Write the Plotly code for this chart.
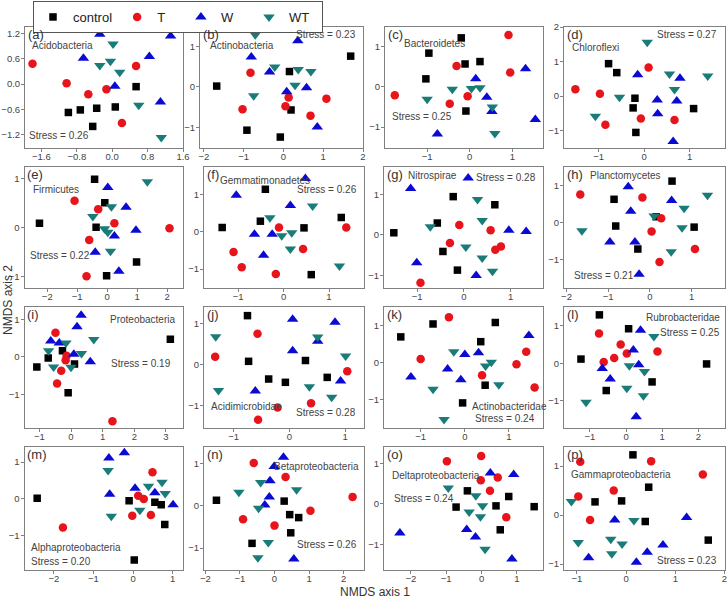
import plotly.graph_objects as go

# ---------------- data (x, y) per panel and group ----------------
a_control = [(-0.99,-0.67),(-0.72,-0.61),(-0.35,-0.57),(0.07,-0.54),(-0.44,-1.00),(0.54,-0.06)]
a_T = [(-1.80,0.48),(-1.03,0.02),(-0.54,-0.24),(-0.13,-0.12),(0.54,0.43),(0.22,-0.92)]
a_W = [(-0.28,1.18),(1.32,1.14),(-0.65,0.61),(0.84,0.65),(0.06,-0.05),(1.09,-0.42)]
a_WT = [(0.02,0.95),(-0.28,0.44),(-0.04,0.54),(0.17,0.28),(0.60,-0.50),(1.11,-1.26)]

b_control = [(-1.68,0.02),(0.15,0.38),(1.69,0.76),(0.19,-0.57),(-0.92,-1.07),(-0.08,-1.24)]
b_T = [(-0.83,0.35),(-1.03,-0.55),(0.13,-0.26),(0.05,-0.48),(0.68,-0.71),(1.08,-0.29)]
b_W = [(-0.81,0.74),(-0.35,0.37),(0.36,1.14),(0.08,-0.12),(0.58,-0.02),(0.85,-0.99)]
b_WT = [(-0.71,1.29),(-0.22,0.49),(0.37,0.43),(0.69,0.38),(0.29,0.04),(-0.75,-0.22)]

c_control = [(-0.20,1.22),(-0.96,0.84),(-1.03,0.20),(-0.11,0.57),(0.24,0.63),(-0.09,-0.60)]
c_T = [(-1.76,-0.21),(-0.31,0.52),(0.91,1.29),(0.95,0.36),(-0.05,-0.23),(-0.47,-0.42)]
c_W = [(0.14,0.20),(0.40,-0.26),(0.52,-0.61),(1.31,0.45),(1.54,-0.81),(-0.76,-1.17)]
c_WT = [(-1.00,-0.31),(-0.41,-0.06),(0.04,-0.04),(0.24,-0.02),(0.53,-0.50),(0.59,-1.16)]

d_control = [(-0.78,0.94),(-0.60,0.68),(-0.20,-0.06),(-0.24,-0.34),(1.09,-0.36),(-0.18,-1.05)]
d_T = [(-1.51,0.20),(-0.97,0.07),(-0.85,-0.83),(0.10,0.83),(-0.07,-0.65),(0.67,-0.69)]
d_W = [(-0.14,0.62),(0.79,0.52),(0.29,-0.11),(0.30,-0.51),(0.72,-0.14),(0.64,-1.31)]
d_WT = [(0.07,1.56),(0.56,0.64),(1.40,0.58),(0.67,0.19),(-0.54,-0.03),(-1.07,-0.58)]

e_control = [(-0.42,0.98),(-2.26,0.08),(-0.08,0.50),(-0.37,0.00),(0.98,-0.71),(-0.02,-0.99)]
e_T = [(-1.09,0.54),(-0.30,0.37),(0.24,0.08),(-0.60,-0.26),(-0.69,-1.00),(2.08,-0.02)]
e_W = [(0.02,0.81),(0.63,0.41),(0.96,-0.06),(0.24,-0.18),(-0.40,-0.51),(0.39,-0.90)]
e_WT = [(1.34,0.93),(0.14,0.42),(-0.48,0.22),(-0.09,-0.03),(0.02,-0.10),(0.11,-0.49)]

f_control = [(-0.40,1.15),(-1.35,0.12),(-0.51,0.29),(0.45,0.11),(1.27,0.39),(0.61,-1.15)]
f_T = [(-0.10,0.12),(1.38,0.12),(-1.10,-0.54),(-0.92,-0.95),(-0.17,-1.13),(0.43,-0.46)]
f_W = [(0.48,1.44),(-1.04,0.99),(0.15,0.71),(-0.64,-0.06),(-0.25,-0.06),(-0.44,-0.63)]
f_WT = [(-0.30,0.38),(0.64,0.70),(-0.04,-0.10),(0.18,-0.02),(0.15,-0.46),(1.23,-0.92)]

g_control = [(-1.50,0.05),(-0.23,0.94),(0.66,0.74),(-0.57,0.29),(-0.45,-0.41),(-0.14,-0.87)]
g_T = [(-0.10,0.24),(0.57,0.11),(-0.30,-0.20),(0.67,-0.37),(0.79,-0.29),(-0.93,-1.18)]
g_W = [(0.09,1.40),(-1.14,1.14),(0.96,0.11),(1.33,0.08),(-1.01,-0.69),(0.26,-1.00)]
g_WT = [(0.29,0.87),(0.39,0.35),(-0.72,0.20),(0.04,-0.30),(0.39,-0.57),(0.61,-0.90)]

h_control = [(0.53,1.11),(-0.86,0.62),(-0.82,-0.10),(0.15,0.15),(1.06,-0.13),(-0.29,-0.72)]
h_T = [(-1.67,0.75),(-0.18,0.67),(0.27,0.11),(0.04,-0.25),(0.23,-1.07),(1.08,-0.72)]
h_W = [(-0.52,0.96),(0.52,0.59),(-0.46,0.30),(-0.96,-0.53),(-0.36,-0.53),(-0.26,-1.40)]
h_WT = [(-1.63,-0.23),(0.10,0.17),(0.82,0.38),(1.38,0.73),(0.77,-0.15),(0.51,-0.79)]

i_control = [(-1.08,-0.27),(-0.72,-0.03),(-0.27,0.16),(0.11,-0.19),(-0.09,-0.96),(3.14,0.47)]
i_T = [(-0.49,0.64),(-0.14,0.03),(-0.17,-0.09),(-0.31,-0.37),(-0.44,-0.71),(1.31,-1.72)]
i_W = [(0.32,1.11),(0.19,0.80),(-0.64,0.42),(-0.37,0.37),(0.09,0.07),(0.61,-0.13)]
i_WT = [(0.72,0.46),(-0.16,0.37),(-0.71,0.16),(0.33,0.09),(-0.55,-0.27),(0.00,-0.28)]

j_control = [(-0.75,1.19),(-0.73,0.08),(-0.37,-0.35),(-0.07,-0.43),(0.29,0.10),(0.68,-0.31)]
j_T = [(-1.33,0.19),(-0.57,0.75),(1.04,-0.16),(-0.21,-1.04),(0.39,-0.94),(-0.56,-1.34)]
j_W = [(0.06,1.10),(0.82,1.03),(0.06,0.34),(0.51,0.57),(-0.61,-0.64),(0.92,-0.40)]
j_WT = [(-1.32,0.68),(0.51,0.67),(1.01,0.21),(-1.27,-0.63),(0.36,-0.54),(0.76,-0.79)]

k_control = [(-1.45,0.70),(-0.72,1.05),(0.69,1.09),(0.36,0.57),(0.46,-0.61),(-0.05,-1.09)]
k_T = [(-0.36,1.23),(-1.00,0.10),(0.39,-0.34),(1.17,-0.04),(1.39,0.30),(1.58,-0.67)]
k_W = [(-1.22,-0.39),(-0.39,-0.17),(0.00,0.22),(0.31,0.27),(-0.09,-0.46),(1.45,0.74)]
k_WT = [(-0.25,0.30),(0.47,-0.09),(0.60,0.01),(-0.72,-0.72),(0.77,-0.60),(-0.47,-1.54)]

l_control = [(-0.74,1.29),(0.07,0.92),(-1.25,0.11),(-0.55,-0.73),(0.72,-0.50),(2.23,-0.02)]
l_T = [(-0.75,0.79),(-0.15,0.50),(0.02,0.26),(-0.33,0.14),(-0.62,0.03),(0.87,0.31)]
l_W = [(0.40,0.88),(0.20,0.35),(-0.66,-0.14),(-0.44,-0.42),(0.35,-0.04),(0.28,-1.43)]
l_WT = [(0.77,0.71),(0.09,-0.07),(0.51,-0.22),(0.02,-0.67),(0.48,-0.87),(-1.11,-1.04)]

m_control = [(-2.42,0.01),(-0.10,-0.06),(0.55,-0.10),(0.71,-0.17),(0.80,-0.71),(0.03,-1.68)]
m_T = [(-1.77,-0.79),(0.49,0.72),(0.13,0.08),(0.27,-0.01),(-0.02,-0.47),(0.45,-0.45)]
m_W = [(-0.61,1.11),(-0.22,1.25),(-0.59,0.12),(0.05,0.28),(0.55,0.16),(1.01,-0.17)]
m_WT = [(-0.63,0.77),(-0.55,-0.48),(0.39,0.34),(0.73,0.45),(0.81,0.14),(0.17,-0.32)]

n_control = [(-1.68,0.13),(0.28,0.11),(0.44,-0.21),(0.70,-0.28),(0.47,-0.64),(-0.65,-0.89)]
n_T = [(-0.60,1.01),(0.32,0.68),(2.26,0.21),(1.04,-0.12),(-0.91,-0.32),(0.00,-0.47)]
n_W = [(0.26,1.15),(-0.01,0.93),(-0.13,0.59),(-0.15,0.21),(-0.28,0.02),(0.56,-1.26)]
n_WT = [(-1.03,0.32),(-0.40,0.55),(0.64,0.38),(-0.46,-0.06),(-0.18,-0.87),(-0.48,-1.23)]

o_control = [(-0.40,0.32),(-0.72,-0.08),(0.41,-0.05),(0.77,0.18),(1.49,-0.07),(0.53,-0.64)]
o_T = [(-0.98,1.05),(-0.01,1.18),(-0.02,0.58),(0.46,0.65),(0.24,0.32),(0.70,-0.33)]
o_W = [(0.25,0.76),(0.91,0.72),(-2.31,-0.72),(-0.42,-0.63),(-0.17,-0.82),(0.86,-1.36)]
o_WT = [(-0.94,0.39),(-0.16,0.20),(0.03,-0.05),(-0.35,-0.20),(-0.03,-0.32),(0.10,-1.12)]

p_control = [(0.14,1.23),(-0.63,0.27),(-0.09,0.29),(0.46,0.57),(0.39,-0.13),(1.67,-0.51)]
p_T = [(-0.93,1.09),(0.51,1.10),(1.56,0.83),(-0.97,0.38),(-0.25,0.50),(-0.73,-0.10)]
p_W = [(-0.23,-0.10),(1.23,-0.05),(-0.76,-0.87),(0.75,-0.61),(0.43,-0.76),(0.21,-0.96)]
p_WT = [(-1.11,0.28),(0.16,-0.11),(-0.97,-0.56),(-0.31,-0.49),(-0.08,-0.59),(-0.29,-0.79)]

groups = ["control", "T", "W", "WT"]
panel_letters = ["a","b","c","d","e","f","g","h","i","j","k","l","m","n","o","p"]
taxa = ["Acidobacteria","Actinobacteria","Bacteroidetes","Chloroflexi",
        "Firmicutes","Gemmatimonadetes","Nitrospirae","Planctomycetes",
        "Proteobacteria","Acidimicrobidae","Actinobacteridae","Rubrobacteridae",
        "Alphaproteobacteria","Betaproteobacteria","Deltaproteobacteria","Gammaproteobacteria"]
stress = ["0.26","0.23","0.25","0.27","0.22","0.26","0.28","0.21",
          "0.19","0.28","0.24","0.25","0.20","0.26","0.24","0.23"]

data_sets = {
    "a": [a_control, a_T, a_W, a_WT], "b": [b_control, b_T, b_W, b_WT],
    "c": [c_control, c_T, c_W, c_WT], "d": [d_control, d_T, d_W, d_WT],
    "e": [e_control, e_T, e_W, e_WT], "f": [f_control, f_T, f_W, f_WT],
    "g": [g_control, g_T, g_W, g_WT], "h": [h_control, h_T, h_W, h_WT],
    "i": [i_control, i_T, i_W, i_WT], "j": [j_control, j_T, j_W, j_WT],
    "k": [k_control, k_T, k_W, k_WT], "l": [l_control, l_T, l_W, l_WT],
    "m": [m_control, m_T, m_W, m_WT], "n": [n_control, n_T, n_W, n_WT],
    "o": [o_control, o_T, o_W, o_WT], "p": [p_control, p_T, p_W, p_WT],
}

# ---------------- styling / layout ----------------
W, H = 728, 602
NB = "\u00a0"
legend_pad = {"control": "", "T": NB * 3, "W": NB * 3, "WT": NB * 2}
styles = {
    "control": dict(symbol="square", color="#000000", size=7.5),
    "T": dict(symbol="circle", color="#e8141c", size=8.5),
    "W": dict(symbol="triangle-up", color="#0a0ad2", size=10),
    "WT": dict(symbol="triangle-down", color="#1a7c78", size=10),
}

# pixel boxes (left, right, top, bottom)
boxes = {
    "a": (25, 183, 27, 148), "b": (200, 363, 27, 148), "c": (385, 543, 27, 148), "d": (564, 725, 27, 148),
    "e": (24.5, 183, 167, 288), "f": (204, 364, 167, 288), "g": (384, 543, 167, 288), "h": (564, 725, 167, 288),
    "i": (24.5, 183, 307, 428), "j": (204, 364, 307, 428), "k": (384, 543, 307, 428), "l": (564, 725, 307, 428),
    "m": (24.5, 183, 447, 570), "n": (204, 364, 447, 570), "o": (384, 543, 447, 570), "p": (564, 725, 447, 570),
}
xr = {"a": [-1.97, 1.6], "b": [-2.1, 2.0], "c": [-1.99, 1.72], "d": [-1.76, 1.78],
      "e": [-2.76, 2.53], "f": [-1.75, 1.77], "g": [-1.71, 1.69], "h": [-2.06, 1.80],
      "i": [-1.47, 3.54], "j": [-1.53, 1.34], "k": [-1.83, 1.77], "l": [-1.72, 2.74],
      "m": [-2.74, 1.26], "n": [-2.04, 2.59], "o": [-2.76, 1.74], "p": [-1.26, 2.01]}
yr = {"a": [-1.51, 1.35], "b": [-1.51, 1.48], "c": [-1.52, 1.49], "d": [-1.50, 2.0],
      "e": [-1.24, 1.23], "f": [-1.51, 1.75], "g": [-1.31, 1.67], "h": [-1.77, 1.49],
      "i": [-1.90, 1.33], "j": [-1.54, 1.40], "k": [-1.77, 1.51], "l": [-1.73, 1.50],
      "m": [-1.95, 1.41], "n": [-1.52, 1.39], "o": [-1.63, 1.40], "p": [-1.12, 1.39]}

# annotation placement in domain coords: (x, y, xanchor)
name_pos = {"a": (0.03, 0.85, "left"), "b": (0.05, 0.85, "left"), "c": (0.11, 0.86, "left"),
            "d": (0.04, 0.83, "left"), "e": (0.04, 0.81, "left"), "f": (0.09, 0.89, "left"),
            "g": (0.14, 0.93, "left"), "h": (0.15, 0.93, "left"), "i": (0.96, 0.90, "right"),
            "j": (0.03, 0.18, "left"), "k": (0.79, 0.18, "center"), "l": (0.98, 0.91, "right"),
            "m": (0.03, 0.18, "left"), "n": (0.98, 0.84, "right"), "o": (0.04, 0.77, "left"),
            "p": (0.03, 0.78, "left")}
stress_pos = {"a": (0.01, 0.10, "left"), "b": (0.97, 0.94, "right"), "c": (0.03, 0.26, "left"),
              "d": (0.96, 0.94, "right"), "e": (0.02, 0.27, "left"), "f": (0.97, 0.81, "right"),
              "g": (0.97, 0.91, "right"), "h": (0.05, 0.10, "left"), "i": (0.94, 0.53, "right"),
              "j": (0.96, 0.13, "right"), "k": (0.76, 0.08, "center"), "l": (0.98, 0.79, "right"),
              "m": (0.03, 0.07, "left"), "n": (0.97, 0.21, "right"), "o": (0.05, 0.58, "left"),
              "p": (0.96, 0.08, "right")}

fig = go.Figure()
layout = dict(width=W, height=H, margin=dict(l=0, r=0, t=0, b=0, autoexpand=False),
              paper_bgcolor="white", plot_bgcolor="white",
              font=dict(family="Liberation Sans, Arial, sans-serif", color="#444"),
              showlegend=True)
annotations = []

for idx, key in enumerate(panel_letters):
    n = idx + 1
    xa = "x" if n == 1 else f"x{n}"
    ya = "y" if n == 1 else f"y{n}"
    xkey = "xaxis" if n == 1 else f"xaxis{n}"
    ykey = "yaxis" if n == 1 else f"yaxis{n}"
    l, r, t, b = boxes[key]
    dec = key == "a"
    common = dict(showgrid=False, zeroline=False, showline=True, mirror=True,
                  linecolor="#808080", linewidth=1, ticks="outside", ticklen=3,
                  tickcolor="#808080", tickfont=dict(size=9.5, color="#444"),
                  automargin=False)
    layout[xkey] = dict(common, domain=[l / W, r / W], range=xr[key], anchor=ya,
                        dtick=0.8 if dec else 1, tick0=0, ticklabelstandoff=-3,
                        tickformat=".1f" if dec else "d")
    layout[ykey] = dict(common, domain=[1 - b / H, 1 - t / H], range=yr[key], anchor=xa,
                        dtick=0.6 if dec else 1, tick0=0, ticklabelstandoff=-1,
                        tickformat=".1f" if dec else "d")
    for g, pts in zip(groups, data_sets[key]):
        st = styles[g]
        fig.add_trace(go.Scatter(
            x=[p[0] for p in pts], y=[p[1] for p in pts], mode="markers",
            name=g + legend_pad[g], legendgroup=g, showlegend=(idx == 0),
            marker=dict(symbol=st["symbol"], color=st["color"], size=st["size"],
                        line=dict(width=0)),
            xaxis=xa, yaxis=ya))
    dref_x = f"{xa} domain"
    dref_y = f"{ya} domain"
    annotations.append(dict(text=f"({key})", x=0.005, y=1.02, xref=dref_x, yref=dref_y,
                            xanchor="left", yanchor="top", showarrow=False,
                            font=dict(size=13, color="#333")))
    nx, ny, na = name_pos[key]
    annotations.append(dict(text=taxa[idx], x=nx, y=ny, xref=dref_x, yref=dref_y,
                            xanchor=na, yanchor="middle", showarrow=False,
                            font=dict(size=10, color="#444")))
    sx, sy, sa = stress_pos[key]
    annotations.append(dict(text=f"Stress = {stress[idx]}", x=sx, y=sy, xref=dref_x, yref=dref_y,
                            xanchor=sa, yanchor="middle", showarrow=False,
                            font=dict(size=10, color="#444")))

annotations.append(dict(text="NMDS axis 1", x=375 / W, y=1 - 592 / H, xref="paper", yref="paper",
                        xanchor="center", yanchor="middle", showarrow=False,
                        font=dict(size=12, color="#333")))
annotations.append(dict(text="NMDS axis 2", x=8 / W, y=1 - 300 / H, xref="paper", yref="paper",
                        xanchor="center", yanchor="middle", showarrow=False, textangle=-90,
                        font=dict(size=12, color="#333")))

layout["annotations"] = annotations
layout["legend"] = dict(orientation="h", x=33 / W, y=1 - 1 / H, xanchor="left", yanchor="top",
                        bordercolor="#555", borderwidth=1, bgcolor="white",
                        font=dict(size=13, color="#222"), itemsizing="trace",
                        tracegroupgap=0, itemwidth=30)
fig.update_layout(**layout)
fig.write_html("out.html")
